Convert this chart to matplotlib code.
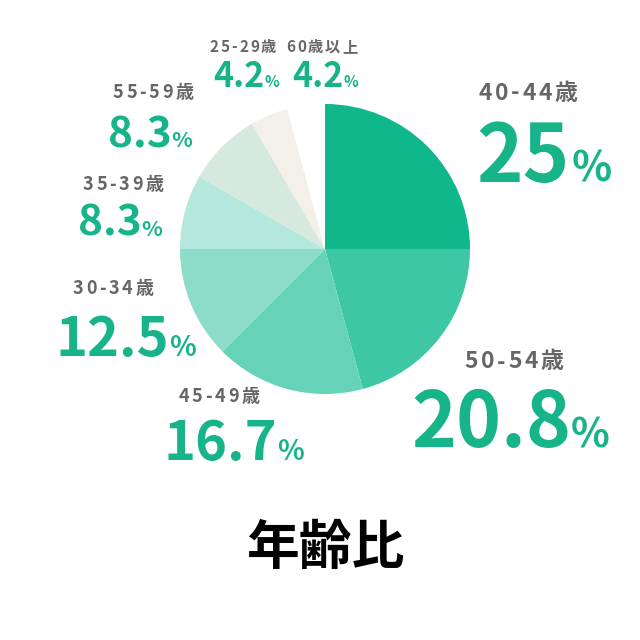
import matplotlib
matplotlib.use("Agg")
import matplotlib.pyplot as plt

plt.rcParams['font.family'] = ['Noto Sans CJK JP', 'DejaVu Sans']

# data (clockwise from 12 o'clock)
ageGroups = ["40-44歳", "50-54歳", "45-49歳", "30-34歳", "35-39歳", "55-59歳", "25-29歳", "60歳以上"]
shares = [25, 20.8, 16.7, 12.5, 8.3, 8.3, 4.2, 4.2]
shareLabels = ["25", "20.8", "16.7", "12.5", "8.3", "8.3", "4.2", "4.2"]
sliceColors = ["#10b78a", "#3dc7a4", "#66d3b9", "#8cdcc8", "#b4e8dd", "#d5e9df", "#f3f0ea", "#ffffff"]

# layout in pixels:
# label centre x, label y, label size, tracking, number left x, baseline y, number size, gap, % size
layout = {
    "40-44歳": (528, 93, 16.5, 2.6, 476, 182, 57, 2, 30),
    "50-54歳": (514, 362, 16.5, 2.6, 411, 447, 55, 0, 29),
    "45-49歳": (219, 396, 13, 2.8, 163, 460, 39, 0, 20),
    "30-34歳": (113, 288, 13, 2.8, 55, 356, 39, 0, 20),
    "35-39歳": (123, 185, 13, 2.6, 78, 236, 30.5, 0, 15.5),
    "55-59歳": (153, 93, 13, 2.6, 108, 147, 30.5, 0, 15.5),
    "25-29歳": (243, 47, 11, 1.8, 213, 87, 24.5, 0, 11),
    "60歳以上": (322, 47, 11, 1.8, 292, 87, 24.5, 0, 11),
}

GREEN = "#17b389"
GRAY = "#666666"


def px(x, y):
    return x / 640.0, 1 - y / 640.0


def spacedText(fig, renderer, cx, y, s, size, color, tracking):
    # draw a string char by char so letter spacing can be added
    pieces = []
    widths = []
    for ch in s:
        t = fig.text(0, 0, ch, ha="left", va="center", fontsize=size,
                     color=color, fontweight="bold")
        pieces.append(t)
        widths.append(t.get_window_extent(renderer).width)
    total = sum(widths) + tracking * (len(s) - 1)
    x = cx - total / 2.0
    for t, w in zip(pieces, widths):
        t.set_position(px(x, y))
        x += w + tracking


fig = plt.figure(figsize=(6.4, 6.4), dpi=100)
fig.patch.set_facecolor("white")
renderer = fig.canvas.get_renderer()

# pie centre (325, 249), radius 145 px
ax = fig.add_axes([180 / 640.0, (640 - 249 - 145) / 640.0, 290 / 640.0, 290 / 640.0])
ax.pie(shares, colors=sliceColors, startangle=90, counterclock=False,
       wedgeprops={"linewidth": 0})
ax.set_xlim(-1, 1)
ax.set_ylim(-1, 1)
ax.set_aspect("equal")
ax.axis("off")

for name, value in zip(ageGroups, shareLabels):
    lx, ly, lsize, track, nx, by, nsize, gap, psize = layout[name]
    spacedText(fig, renderer, lx, ly, name, lsize, GRAY, track)
    num = fig.text(*px(nx, by), value, ha="left", va="baseline", fontsize=nsize,
                   color=GREEN, fontweight="bold")
    numWidth = num.get_window_extent(renderer).width
    fig.text(*px(nx + numWidth + gap, by), "%", ha="left", va="baseline",
             fontsize=psize, color=GREEN, fontweight="bold")

fig.text(*px(325, 548), "年齢比", ha="center", va="center", fontsize=38,
         color="black", fontweight="bold")

fig.savefig("out.png", dpi=100, facecolor="white")
